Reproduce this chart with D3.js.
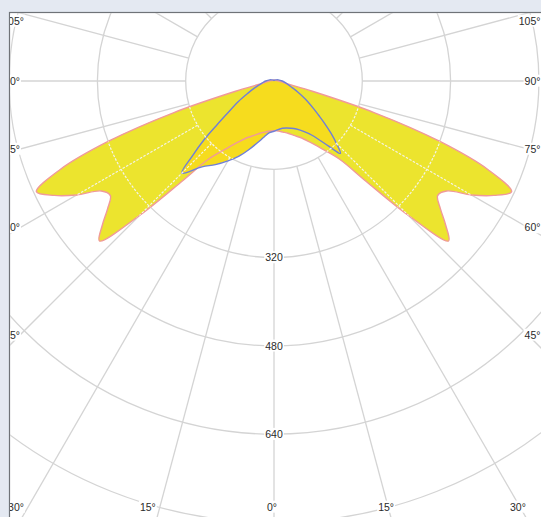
<!DOCTYPE html>
<html>
<head>
<meta charset="utf-8">
<script src="https://cdn.jsdelivr.net/npm/d3@7"></script>
<style>
  body { margin: 0; background: #e4e9f2; }
  svg { display: block; }
</style>
</head>
<body>
<div id="app"></div>
<script>
// polar angles (deg from nadir) and intensities (cd/klm)
const gammaPink = [0,5,10,15,20,25,30,35,40,42.5,45,47.5,50,52.5,55,57.5,60,62.5,65,67.5,70,72.5,75,77.5,80,85,90,100,110,120,135,150,165,180];
const pinkC0   = [90,91,94,98,105,113,127,149,185,245,344,429,406,380,362,371,413,449,475,420,319,190,72,27,18,12,8,5,3,2,2,2,2,2];
const pinkC180 = pinkC0; // symmetric plane

const gammaBlueR = [0,10,20,25,30,35,40,42.5,45,47.5,50,52.5,55,60,65,70,80,90,105,120,150,180];
const blueC90    = [91,87,91,96,105,120,154,178,160,140,120,102,88,66,48,35,22,15,8,4,2,1];
const gammaBlueL = [0,5,10,15,20,25,30,35,40,45,47.5,50,52.5,55,60,65,70,80,90,105,120,150,180];
const blueC270   = [91,94,103,116,132,150,167,185,203,236,200,165,130,105,75,52,38,22,15,8,4,2,1];

const rings = [160,320,480,640,800,960];
const ringLabels = ["320","480","640"];
const spokes = d3.range(-180, 181, 15);

const W = 541, H = 517;
const cx = 274, cy = 81;
const box = {l: 20, r: 528, b: 507};

const r = d3.scaleLinear().domain([0, 800]).range([0, 441.5]);

const svg = d3.select("#app").append("svg")
  .attr("width", W).attr("height", H);

const defs = svg.append("defs");
defs.append("clipPath").attr("id", "panel")
  .append("rect").attr("x", 10).attr("y", 13).attr("width", W).attr("height", H);

// panel
svg.append("rect")
  .attr("x", 9.5).attr("y", 12.5)
  .attr("width", W + 10).attr("height", H + 10)
  .attr("fill", "white").attr("stroke", "#6f7378").attr("stroke-width", 1.2);

const g = svg.append("g").attr("clip-path", "url(#panel)");

function drawGrid(sel, color, dash, width) {
  sel.selectAll("circle.ring").data(rings).join("circle")
    .attr("class", "ring")
    .attr("cx", cx).attr("cy", cy).attr("r", d => r(d))
    .attr("fill", "none").attr("stroke", color)
    .attr("stroke-width", width).attr("stroke-dasharray", dash);
  sel.selectAll("line.spoke").data(spokes).join("line")
    .attr("class", "spoke")
    .attr("x1", d => cx + r(160) * Math.sin(d * Math.PI / 180))
    .attr("y1", d => cy + r(160) * Math.cos(d * Math.PI / 180))
    .attr("x2", d => cx + r(1400) * Math.sin(d * Math.PI / 180))
    .attr("y2", d => cy + r(1400) * Math.cos(d * Math.PI / 180))
    .attr("stroke", color).attr("stroke-width", width).attr("stroke-dasharray", dash);
}

drawGrid(g.append("g"), "#d4d4d4", null, 1.3);

// curve builders (angle from nadir -> lineRadial angle)
function loop(gl, vl, gr, vr) {
  const pts = [];
  gl.forEach((a, i) => pts.push([Math.PI + a * Math.PI / 180, r(vl[i])]));
  for (let i = gr.length - 1; i >= 0; i--) {
    if (gr[i] === 0 || gr[i] === 180) continue;
    pts.push([3 * Math.PI - gr[i] * Math.PI / 180, r(vr[i])]);
  }
  return pts;
}
const radial = d3.lineRadial().curve(d3.curveCatmullRomClosed.alpha(0.5));

const pinkPts = loop(gammaPink, pinkC180, gammaPink, pinkC0);
const bluePts = loop(gammaBlueL, blueC270, gammaBlueR, blueC90);

const curves = g.append("g").attr("transform", `translate(${cx},${cy})`);
curves.append("path").attr("d", radial(pinkPts))
  .attr("fill", "#ece42e").attr("stroke", "none");
curves.append("path").attr("d", radial(bluePts))
  .attr("fill", "#f6dc1e").attr("stroke", "none");

// light dashed grid over the filled area
const fillClip = defs.append("clipPath").attr("id", "fillclip");
fillClip.append("path").attr("transform", `translate(${cx},${cy})`).attr("d", radial(pinkPts));
fillClip.append("path").attr("transform", `translate(${cx},${cy})`).attr("d", radial(bluePts));
drawGrid(g.append("g").attr("clip-path", "url(#fillclip)"), "#f4f4e8", "2.5,1.5", 1.2);

curves.append("path").attr("d", radial(pinkPts))
  .attr("fill", "none").attr("stroke", "#f09a9a").attr("stroke-width", 1.4);
curves.append("path").attr("d", radial(bluePts))
  .attr("fill", "none").attr("stroke", "#6f7fd8").attr("stroke-width", 1.4);

// labels with white backing
function label(sel, x, y, txt, anchor) {
  const t = sel.append("text")
    .attr("x", x).attr("y", y).attr("dy", "0.35em")
    .attr("text-anchor", anchor || "middle")
    .attr("font-family", "Liberation Sans, Arial, sans-serif")
    .attr("font-size", 10.5).attr("fill", "#2a2a2a")
    .text(txt);
  let bb = t.node().getBBox();
  if (bb.x + bb.width > W - 0.5) {
    t.attr("x", x - (bb.x + bb.width - (W - 0.5)));
    bb = t.node().getBBox();
  }
  sel.insert("rect", () => t.node())
    .attr("x", bb.x - 1).attr("y", bb.y).attr("width", bb.width + 2).attr("height", bb.height)
    .attr("fill", "white");
}

const labs = g.append("g");
ringLabels.forEach(v => label(labs, cx, cy + r(+v), v));

spokes.filter(d => Math.abs(d) <= 105).forEach(d => {
  const a = d * Math.PI / 180;
  const dx = Math.sin(a), dy = Math.cos(a);
  let t = Infinity, side = "bottom";
  if (dx > 1e-9 && (box.r - cx) / dx < t) { t = (box.r - cx) / dx; side = "right"; }
  if (dx < -1e-9 && (box.l - cx) / dx < t) { t = (box.l - cx) / dx; side = "left"; }
  if (dy > 1e-9 && (box.b - cy) / dy < t) { t = (box.b - cy) / dy; side = "bottom"; }
  const x = cx + t * dx, y = Math.max(cy + t * dy, 21);
  const txt = Math.abs(d) + "°";
  if (side === "right") label(labs, x, y, txt, "start");
  else if (side === "left") label(labs, x + (y <= 21 ? 4 : 0), y, txt, "end");
  else label(labs, x + (d < 0 ? -12 : -2), y, txt);
});
</script>
</body>
</html>
